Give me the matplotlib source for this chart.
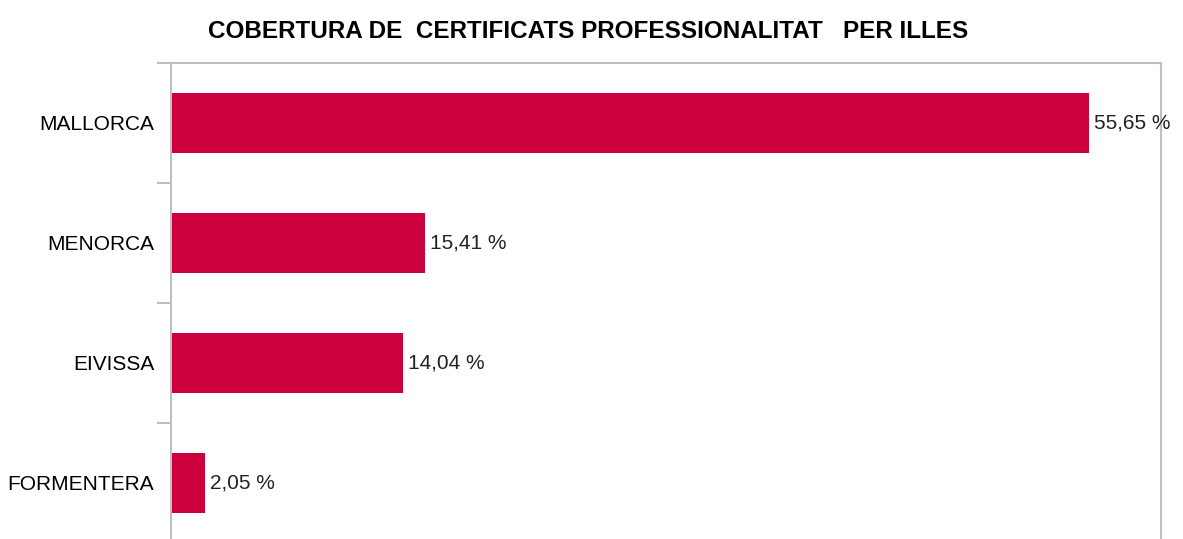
import matplotlib.pyplot as plt
import numpy as np

# =====================================================
# DATA
# =====================================================

illes = ['MALLORCA', 'MENORCA', 'EIVISSA', 'FORMENTERA']
cobertura = [55.65, 15.41, 14.04, 2.05]
etiquetes = ['55,65 %', '15,41 %', '14,04 %', '2,05 %']

titol = 'COBERTURA DE  CERTIFICATS PROFESSIONALITAT   PER ILLES'

# =====================================================
# FIGURE
# =====================================================

plt.rcParams['font.family'] = ['Liberation Sans', 'DejaVu Sans']

fig = plt.figure(figsize=(11.83, 5.39), dpi=100)

W, H = 1183, 539
ax = fig.add_axes([171 / W, (539 - 543) / H, 990 / W, 480 / H])

y = np.arange(len(illes))

ax.barh(
    y,
    cobertura,
    height=0.5,
    color='#CC003C'
)

for yi, val, txt in zip(y, cobertura, etiquetes):
    ax.text(
        val + 0.3,
        yi,
        txt,
        va='center',
        ha='left',
        fontsize=15,
        color='#222222'
    )

ax.set_xlim(0, 60)
ax.set_ylim(3.5, -0.5)

ax.set_yticks(y)
ax.set_yticklabels(illes, fontsize=15)
ax.tick_params(axis='y', which='major', length=0, pad=12)

ax.set_yticks(np.arange(-0.5, 4.0, 1.0), minor=True)
ax.tick_params(axis='y', which='minor', length=10, color='#BFBFBF', width=1.5)

ax.set_xticks([])

for side in ['left', 'top', 'right']:
    ax.spines[side].set_color('#BFBFBF')
    ax.spines[side].set_linewidth(1.5)
ax.spines['bottom'].set_visible(False)

fig.text(
    588 / W,
    1 - 31 / H,
    titol,
    ha='center',
    va='center',
    fontsize=17.5,
    fontweight='bold'
)

fig.savefig('out.png', dpi=100)
